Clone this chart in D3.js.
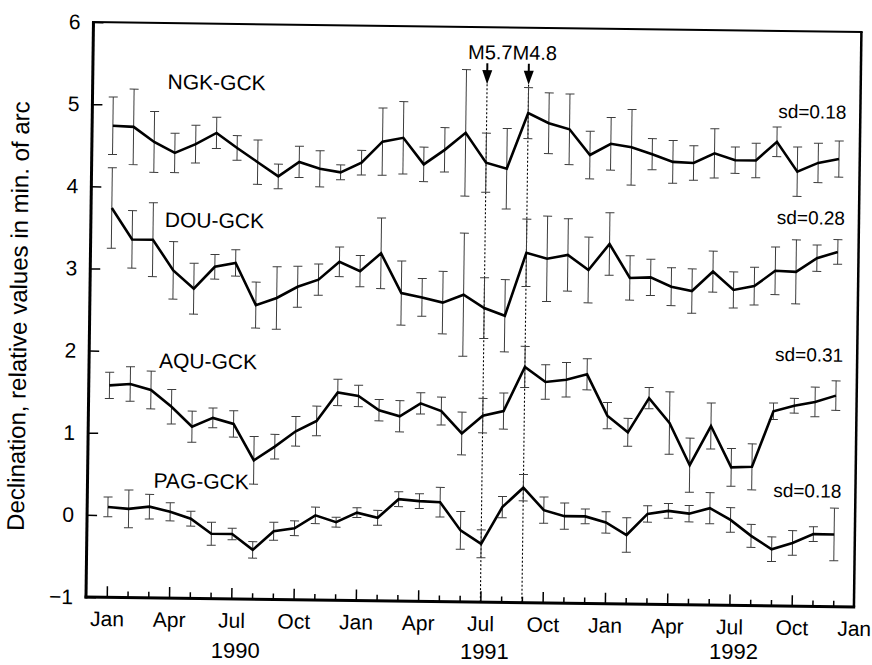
<!DOCTYPE html>
<html><head><meta charset="utf-8">
<script src="https://cdn.jsdelivr.net/npm/d3@7/dist/d3.min.js"></script>
<style>
html,body{margin:0;padding:0;background:#fff;}
svg{display:block;font-family:"Liberation Sans",Arial,sans-serif;}
</style>
</head><body>
<svg id="chart" width="872" height="665"></svg>
<script>
// ---------------- data ----------------
const years = ["1990", "1991", "1992"];
const monthNames = ["Jan","Feb","Mar","Apr","May","Jun","Jul","Aug","Sep","Oct","Nov","Dec"];
const months = years.flatMap(y => monthNames.map(m => m + " " + y)); // 36 monthly categories
const tickLabels = ["Jan","Apr","Jul","Oct","Jan","Apr","Jul","Oct","Jan","Apr","Jul","Oct","Jan"];
const yTicks = [-1, 0, 1, 2, 3, 4, 5, 6];

const ngk = [4.74,4.73,4.55,4.42,4.53,4.67,4.49,4.32,4.15,4.33,4.25,4.21,
             4.33,4.59,4.64,4.32,4.50,4.71,4.35,4.28,4.96,4.84,4.77,4.46,
             4.60,4.56,4.48,4.39,4.38,4.50,4.42,4.42,4.65,4.29,4.40,4.45];
const ngkErr = [0.35,0.46,0.37,0.24,0.23,0.19,0.15,0.27,0.15,0.19,0.22,0.09,
                0.15,0.41,0.44,0.21,0.27,0.77,0.36,0.49,0.31,0.37,0.43,0.29,
                0.32,0.46,0.19,0.26,0.21,0.30,0.16,0.21,0.18,0.30,0.24,0.22];

const dou = [3.74,3.36,3.36,2.99,2.77,3.04,3.09,2.58,2.67,2.81,2.90,3.12,
             3.01,3.23,2.75,2.70,2.64,2.74,2.58,2.49,3.26,3.19,3.24,3.06,
             3.38,2.97,2.98,2.87,2.82,3.06,2.84,2.89,3.08,3.07,3.24,3.32];
const douErr = [0.49,0.35,0.45,0.35,0.31,0.15,0.16,0.28,0.38,0.25,0.19,0.18,
                0.19,0.43,0.39,0.23,0.38,0.75,0.37,0.44,0.41,0.52,0.44,0.40,
                0.38,0.27,0.22,0.23,0.27,0.25,0.22,0.23,0.29,0.39,0.16,0.15];

const aqu = [1.58,1.60,1.53,1.33,1.09,1.20,1.13,0.69,0.86,1.05,1.18,1.53,
             1.49,1.32,1.25,1.41,1.32,1.05,1.27,1.33,1.87,1.69,1.72,1.79,
             1.29,1.09,1.51,1.21,0.70,1.18,0.68,0.69,1.37,1.44,1.49,1.57];
const aquErr = [0.16,0.21,0.23,0.21,0.19,0.12,0.16,0.29,0.15,0.18,0.18,0.16,
                0.13,0.13,0.19,0.13,0.17,0.26,0.21,0.22,0.25,0.21,0.21,0.19,
                0.16,0.17,0.13,0.38,0.33,0.28,0.23,0.28,0.10,0.09,0.18,0.18];

const pag = [0.10,0.08,0.11,0.05,-0.03,-0.21,-0.21,-0.40,-0.17,-0.13,0.03,-0.05,
             0.07,0.01,0.24,0.22,0.21,-0.13,-0.29,0.16,0.40,0.13,0.06,0.06,
             -0.01,-0.16,0.10,0.14,0.11,0.18,0.04,-0.15,-0.31,-0.23,-0.12,-0.12];
const pagErr = [0.12,0.23,0.15,0.11,0.09,0.14,0.07,0.10,0.11,0.09,0.10,0.06,
                0.06,0.09,0.09,0.09,0.18,0.23,0.17,0.13,0.16,0.16,0.16,0.09,
                0.13,0.21,0.10,0.09,0.10,0.19,0.15,0.14,0.15,0.15,0.09,0.32];

const seriesNames = ["NGK-GCK", "DOU-GCK", "AQU-GCK", "PAG-GCK"];
const sdLabels = ["sd=0.18", "sd=0.28", "sd=0.31", "sd=0.18"];
const eventMonths = ["Jul 1991", "Sep 1991"];
const eventText = "M5.7M4.8";
const yTitle = "Declination, relative values in min. of arc";

// ---------------- layout ----------------
const L = 86, R = 854, T = 22, B = 597;
const TILT = 0.745; // the scanned original is tilted slightly clockwise
const x = d3.scaleLinear().domain([-1, 36]).range([L, R]);
const y = d3.scaleLinear().domain([-1, 6]).range([B, T]);
const xm = m => x(months.indexOf(m));

const svg = d3.select("#chart");
const g = svg.append("g").attr("transform", `rotate(${TILT}, ${L}, ${B})`);

// event markers (dotted verticals + arrows)
eventMonths.forEach(m => {
  const ex = xm(m);
  g.append("line").attr("x1", ex).attr("x2", ex).attr("y1", 79).attr("y2", B)
    .attr("stroke", "#000").attr("stroke-width", 1.1).attr("stroke-dasharray", "2,2");
  g.append("line").attr("x1", ex).attr("x2", ex).attr("y1", 58).attr("y2", 68)
    .attr("stroke", "#000").attr("stroke-width", 2);
  g.append("path").attr("d", `M${ex-5},65 L${ex+5},65 L${ex},79 Z`).attr("fill", "#000");
});
g.append("text").attr("x", 461).attr("y", 54).attr("font-size", 20).attr("fill", "#000").text(eventText);

// series
const series = [
  {name: seriesNames[0], v: ngk, e: ngkErr, sd: sdLabels[0], lx: 161, ly: 88, sy: 109},
  {name: seriesNames[1], v: dou, e: douErr, sd: sdLabels[1], lx: 160, ly: 226, sy: 215},
  {name: seriesNames[2], v: aqu, e: aquErr, sd: sdLabels[2], lx: 156, ly: 367, sy: 352},
  {name: seriesNames[3], v: pag, e: pagErr, sd: sdLabels[3], lx: 152, ly: 487, sy: 488}
];
const line = d3.line().x((d, i) => x(i)).y(d => y(d));
series.forEach(s => {
  const eb = g.append("g").attr("stroke", "#3c3c3c").attr("stroke-width", 1).attr("fill", "none");
  s.v.forEach((v, i) => {
    const cx = x(i), y1 = y(v - s.e[i]), y2 = y(v + s.e[i]);
    eb.append("line").attr("x1", cx).attr("x2", cx).attr("y1", y1).attr("y2", y2);
    eb.append("line").attr("x1", cx - 4.5).attr("x2", cx + 4.5).attr("y1", y1).attr("y2", y1);
    eb.append("line").attr("x1", cx - 4.5).attr("x2", cx + 4.5).attr("y1", y2).attr("y2", y2);
  });
  g.append("path").datum(s.v).attr("d", line).attr("fill", "none")
    .attr("stroke", "#000").attr("stroke-width", 2.6).attr("stroke-linejoin", "miter");
  g.append("text").attr("x", s.lx).attr("y", s.ly).attr("font-size", 21).attr("fill", "#000").text(s.name);
  g.append("text").attr("x", 840).attr("y", s.sy).attr("font-size", 19).attr("text-anchor", "end")
    .attr("fill", "#000").text(s.sd);
});

// y axis
const yAxis = g.append("g").attr("transform", `translate(${L},0)`)
  .call(d3.axisLeft(y).tickValues(yTicks).tickSizeInner(-10).tickSizeOuter(0).tickPadding(13).tickFormat(d3.format("d")));
yAxis.select(".domain").remove();
yAxis.selectAll(".tick line").attr("stroke", "#000").attr("stroke-width", 1.5);
yAxis.selectAll(".tick text").attr("font-size", 21).attr("fill", "#000")
  .attr("font-family", "'Liberation Sans',Arial,sans-serif");

// x axis
const xAxis = g.append("g").attr("transform", `translate(0,${B})`)
  .call(d3.axisBottom(x).tickValues(d3.range(0, 37)).tickSizeInner(-6).tickSizeOuter(0).tickPadding(14)
    .tickFormat(i => i % 3 === 0 ? tickLabels[i / 3] : ""));
xAxis.select(".domain").remove();
xAxis.selectAll(".tick line").attr("stroke", "#000").attr("stroke-width", 1.5)
  .attr("y2", i => i === 36 ? 0 : (i % 3 === 0 ? -11 : -6));
xAxis.selectAll(".tick text").attr("font-size", 21).attr("fill", "#000")
  .attr("font-family", "'Liberation Sans',Arial,sans-serif");

// frame
g.append("line").attr("x1", L).attr("x2", L).attr("y1", T).attr("y2", B + 1.5).attr("stroke", "#000").attr("stroke-width", 3);
g.append("line").attr("x1", L - 1.5).attr("x2", R + 1.25).attr("y1", B).attr("y2", B).attr("stroke", "#000").attr("stroke-width", 3);
g.append("line").attr("x1", L - 1.5).attr("x2", R + 1.25).attr("y1", T).attr("y2", T).attr("stroke", "#000").attr("stroke-width", 2);
g.append("line").attr("x1", R).attr("x2", R).attr("y1", T).attr("y2", B).attr("stroke", "#000").attr("stroke-width", 2.5);

// y title
g.append("text").attr("transform", "translate(23,317) rotate(-90)").attr("text-anchor", "middle")
  .attr("font-size", 24).attr("fill", "#000").text(yTitle);

// year labels (kept level so that they stay inside the page)
years.forEach(yr => {
  const cx = xm("Jul " + yr) + 4;
  svg.append("text").attr("x", cx).attr("y", Math.min(656 + (cx - L) * 0.013, 659))
    .attr("text-anchor", "middle").attr("font-size", 22).attr("fill", "#000").text(yr);
});
</script>
</body></html>
